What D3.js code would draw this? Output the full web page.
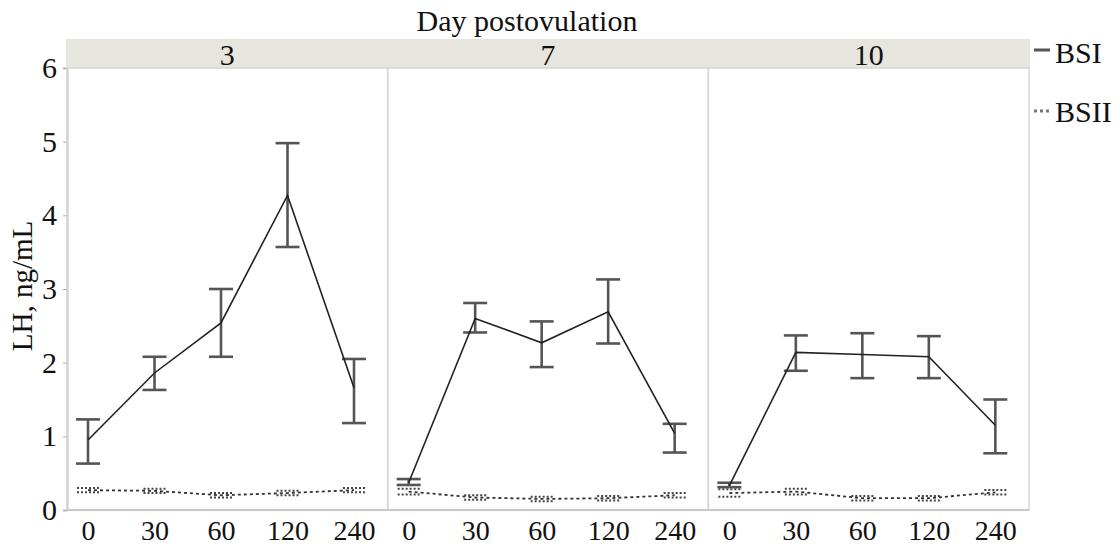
<!DOCTYPE html>
<html>
<head>
<meta charset="utf-8">
<script src="https://cdn.jsdelivr.net/npm/d3@7"></script>
<style>
  body { margin: 0; background: #fff; }
  text { font-family: "Liberation Serif", "Times New Roman", serif; fill: #111; }
</style>
</head>
<body>
<script>
// data
var days = ["3", "7", "10"];
var times = ["0", "30", "60", "120", "240"];
var yTicks = [0, 1, 2, 3, 4, 5, 6];

// BSI mean, lower and upper error bar per day
var bsiMean = [
  [0.95, 1.86, 2.54, 4.27, 1.66],
  [0.37, 2.60, 2.27, 2.69, 1.04],
  [0.33, 2.14, 2.11, 2.08, 1.15]
];
var bsiLo = [
  [0.63, 1.63, 2.08, 3.57, 1.18],
  [0.34, 2.41, 1.94, 2.26, 0.78],
  [0.31, 1.89, 1.79, 1.79, 0.77]
];
var bsiHi = [
  [1.23, 2.08, 3.00, 4.98, 2.05],
  [0.42, 2.81, 2.56, 3.13, 1.17],
  [0.37, 2.37, 2.40, 2.36, 1.50]
];
// BSII mean per day (error bars very small)
var bsiiMean = [
  [0.27, 0.26, 0.20, 0.23, 0.27],
  [0.25, 0.17, 0.15, 0.16, 0.20],
  [0.23, 0.25, 0.16, 0.16, 0.24]
];
var bsiiErr = [
  [0.03, 0.03, 0.03, 0.03, 0.03],
  [0.04, 0.03, 0.03, 0.03, 0.03],
  [0.05, 0.04, 0.03, 0.03, 0.03]
];

var W = 1120, H = 546;
var m = { left: 67, right: 1029, top: 68, bottom: 510, strip: 39 };

var svg = d3.select("body").append("svg")
  .attr("width", W)
  .attr("height", H);

var y = d3.scaleLinear().domain([0, 6]).range([m.bottom, m.top]);
var x = d3.scalePoint().domain(times).range([21, 287]);
var panelX = d3.scaleBand().domain(days).range([m.left, m.right]);

// title
svg.append("text")
  .attr("x", 527).attr("y", 31)
  .attr("text-anchor", "middle")
  .style("font-size", "30px")
  .text("Day postovulation");

// strip
svg.append("rect")
  .attr("x", m.left - 1).attr("y", m.strip)
  .attr("width", m.right - m.left + 2).attr("height", m.top - m.strip)
  .attr("fill", "#e7e6de");

// y axis
var yAxis = svg.append("g")
  .attr("transform", "translate(" + m.left + ",0)")
  .call(d3.axisLeft(y).tickValues(yTicks).tickFormat(d3.format("d")).tickSize(4).tickPadding(6));
yAxis.select(".domain").attr("stroke", "#c8c8c8").attr("stroke-width", 2);
yAxis.selectAll(".tick line").attr("stroke", "#aaa");
yAxis.selectAll("text")
  .style("font-size", "30px")
  .style("font-family", "Liberation Serif")
  .attr("fill", "#111");

svg.append("text")
  .attr("transform", "translate(32," + 286 + ") rotate(-90)")
  .attr("text-anchor", "middle")
  .style("font-size", "29px")
  .text("LH, ng/mL");

var line = d3.line()
  .x(function(d, i) { return x(times[i]); })
  .y(function(d) { return y(d); });

days.forEach(function(day, k) {
  var g = svg.append("g")
    .attr("transform", "translate(" + panelX(day) + ",0)");

  // panel frame
  g.append("rect")
    .attr("x", 0).attr("y", m.top)
    .attr("width", panelX.bandwidth()).attr("height", m.bottom - m.top)
    .attr("fill", "none")
    .attr("stroke", "#d6d6d6")
    .attr("stroke-width", 1.5);

  // strip label
  g.append("text")
    .attr("x", panelX.bandwidth() / 2).attr("y", 65)
    .attr("text-anchor", "middle")
    .style("font-size", "30px")
    .text(day);

  // x axis
  var xa = g.append("g")
    .attr("transform", "translate(0," + m.bottom + ")")
    .call(d3.axisBottom(x).tickSize(0).tickPadding(10));
  xa.select(".domain").attr("stroke", "#c8c8c8").attr("stroke-width", 2)
    .attr("d", "M0,0H" + panelX.bandwidth());
  xa.selectAll("text")
    .style("font-size", "28px")
    .style("font-family", "Liberation Serif")
    .attr("fill", "#111");

  // BSII dotted line
  g.append("path")
    .datum(bsiiMean[k])
    .attr("d", line)
    .attr("fill", "none")
    .attr("stroke", "#333")
    .attr("stroke-width", 1.8)
    .attr("stroke-dasharray", "3,3");

  var b2 = g.selectAll(".bsii").data(bsiiMean[k]).enter().append("g")
    .attr("stroke", "#444").attr("stroke-width", 2).attr("stroke-dasharray", "2,2");
  b2.append("line")
    .attr("x1", function(d, i) { return x(times[i]) - 11; })
    .attr("x2", function(d, i) { return x(times[i]) + 11; })
    .attr("y1", function(d, i) { return y(d + bsiiErr[k][i]); })
    .attr("y2", function(d, i) { return y(d + bsiiErr[k][i]); });
  b2.append("line")
    .attr("x1", function(d, i) { return x(times[i]) - 11; })
    .attr("x2", function(d, i) { return x(times[i]) + 11; })
    .attr("y1", function(d, i) { return y(d - bsiiErr[k][i]); })
    .attr("y2", function(d, i) { return y(d - bsiiErr[k][i]); });

  // BSI error bars
  var eb = g.selectAll(".bsi").data(bsiMean[k]).enter().append("g")
    .attr("stroke", "#555").attr("stroke-width", 2.6);
  eb.append("line")
    .attr("x1", function(d, i) { return x(times[i]); })
    .attr("x2", function(d, i) { return x(times[i]); })
    .attr("y1", function(d, i) { return y(bsiLo[k][i]); })
    .attr("y2", function(d, i) { return y(bsiHi[k][i]); });
  eb.append("line")
    .attr("x1", function(d, i) { return x(times[i]) - 12; })
    .attr("x2", function(d, i) { return x(times[i]) + 12; })
    .attr("y1", function(d, i) { return y(bsiHi[k][i]); })
    .attr("y2", function(d, i) { return y(bsiHi[k][i]); });
  eb.append("line")
    .attr("x1", function(d, i) { return x(times[i]) - 12; })
    .attr("x2", function(d, i) { return x(times[i]) + 12; })
    .attr("y1", function(d, i) { return y(bsiLo[k][i]); })
    .attr("y2", function(d, i) { return y(bsiLo[k][i]); });

  // BSI line
  g.append("path")
    .datum(bsiMean[k])
    .attr("d", line)
    .attr("fill", "none")
    .attr("stroke", "#222")
    .attr("stroke-width", 1.6);
});

// legend
var legend = svg.append("g");
legend.append("line")
  .attr("x1", 1034).attr("x2", 1050).attr("y1", 50).attr("y2", 50)
  .attr("stroke", "#555").attr("stroke-width", 3);
legend.append("text")
  .attr("x", 1055).attr("y", 63)
  .style("font-size", "30px")
  .text("BSI");
legend.append("line")
  .attr("x1", 1034).attr("x2", 1050).attr("y1", 111).attr("y2", 111)
  .attr("stroke", "#777").attr("stroke-width", 3).attr("stroke-dasharray", "3,3");
legend.append("text")
  .attr("x", 1055).attr("y", 122)
  .style("font-size", "30px")
  .text("BSII");
</script>
</body>
</html>
